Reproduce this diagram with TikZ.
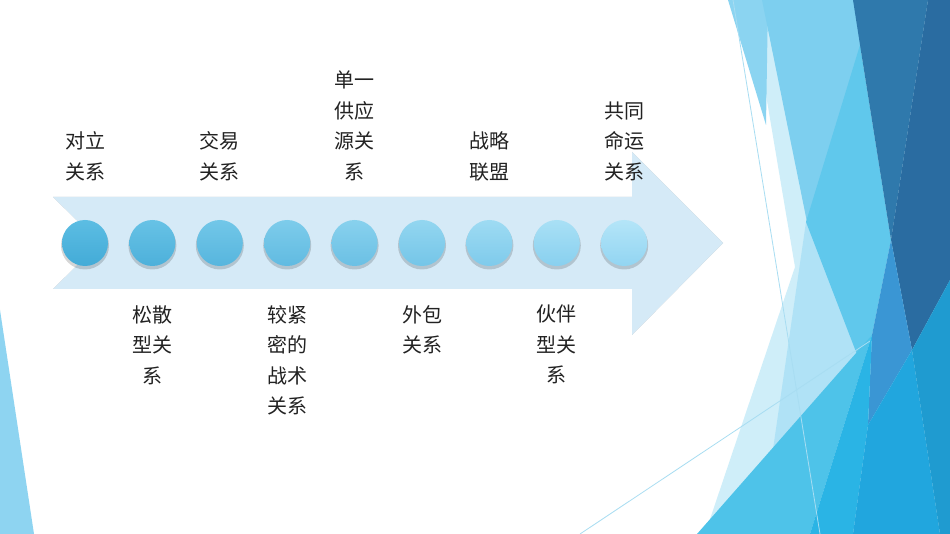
\documentclass[tikz,border=0pt]{standalone}
\usepackage{fontspec}
\newfontfamily\cjk{Noto Sans CJK SC}
\usetikzlibrary{positioning,calc}
\definecolor{arrowfill}{HTML}{D5EAF7}
\definecolor{ballLT}{HTML}{5CBDE3}
\definecolor{ballLB}{HTML}{43ABD7}
\definecolor{ballRT}{HTML}{B4E5F8}
\definecolor{ballRB}{HTML}{92D5F2}
\definecolor{labeltext}{HTML}{222222}
\definecolor{facetLeft}{HTML}{8ED4F1}
\definecolor{facetPale}{HTML}{CFEEF9}
\definecolor{facetBand}{HTML}{8BD4F1}
\definecolor{facetLight}{HTML}{7DCFEF}
\definecolor{facetLighter}{HTML}{B0E2F6}
\definecolor{facetMid}{HTML}{60C8EC}
\definecolor{facetDark}{HTML}{2F79AC}
\definecolor{facetDarker}{HTML}{2A6CA1}
\definecolor{facetBlue}{HTML}{3A96D4}
\definecolor{facetMidB}{HTML}{4EC3E9}
\definecolor{facetBright}{HTML}{2AB4E5}
\definecolor{facetSea}{HTML}{21A6DE}
\definecolor{facetTeal}{HTML}{1F9BD0}
\definecolor{facetLine}{HTML}{A8DDF2}
\tikzset{
    ball/.style = {circle, minimum size=46pt, inner sep=0pt, outer sep=0pt, draw=none},
    lbl/.style = {font=\cjk\fontsize{20}{30.5}\selectfont, text=labeltext, align=center, inner sep=0pt},
    hairline/.style = {draw=facetLine, line width=0.8pt}
}

\begin{document}
\begin{tikzpicture}[
  x=1pt, y=-1pt,
  node distance=39pt
]
\useasboundingbox (0,0) rectangle (950,534);
\fill[white] (0,0) rectangle (950,534);

% ---- facets (background) ----
\fill[facetLeft] (0,310) -- (34,534) -- (0,534) -- cycle;
\fill[facetPale] (750,0) -- (950,0) -- (950,534) -- (705,534) -- (795,267) -- cycle;
\fill[facetBand] (728,0) -- (768,0) -- (766,125) -- cycle;
\fill[facetLight] (762,0) -- (856,0) -- (862,45) -- (808,227) -- cycle;
\fill[facetLighter] (806,222) -- (880,360) -- (770,470) -- cycle;
\fill[facetMid] (860,45) -- (891,240) -- (872,335) -- (858,357) -- (806,222) -- cycle;
\fill[facetDark] (853,0) -- (928,0) -- (891,240) -- (860,45) -- cycle;
\fill[facetDarker] (928,0) -- (950,0) -- (950,280) -- (912,350) -- (891,240) -- cycle;
\fill[facetBlue] (891,240) -- (912,350) -- (868,425) -- (872,335) -- cycle;
\fill[facetMidB] (697,534) -- (872,335) -- (810,534) -- cycle;
\fill[facetBright] (810,534) -- (872,335) -- (868,425) -- (853,534) -- cycle;
\fill[facetSea] (853,534) -- (868,425) -- (912,350) -- (940,534) -- cycle;
\fill[facetTeal] (912,350) -- (950,280) -- (950,534) -- (940,534) -- cycle;
\draw[hairline] (733,0) -- (820,534);
\draw[hairline] (580,534) -- (870,341);

% ---- arrow ----
\coordinate (tailT) at (53,197);
\coordinate (shaftT) at (632,197);
\coordinate (headT) at (632,152);
\coordinate (tip) at (723,243);
\coordinate (headB) at (632,335);
\coordinate (shaftB) at (632,289);
\coordinate (tailB) at (53,289);
\coordinate (notch) at (100,243);
\fill[gray!60, opacity=.75, shift={(0,2)}]
  (tailT) -- (shaftT) -- (headT) -- (tip) -- (headB) -- (shaftB) -- (tailB) -- (notch) -- cycle;
\fill[arrowfill]
  (tailT) -- (shaftT) -- (headT) -- (tip) -- (headB) -- (shaftB) -- (tailB) -- (notch) -- cycle;

% ---- circles ----
\foreach \i in {1,...,9}{
  \pgfmathsetmacro{\pct}{100*(\i-1)/8}
  \colorlet{balltop}{ballRT!\pct!ballLT}
  \colorlet{ballbot}{ballRB!\pct!ballLB}
  \fill[black, opacity=.16] ({85+67.4*(\i-1)},245.5) circle[radius=24];
  \node[ball, top color=balltop, bottom color=ballbot] (b\i) at ({85+67.4*(\i-1)},243) {};
}

% ---- labels (top) ----
\node[lbl, above=of b1] (l1) {对立\\关系};
\node[lbl, above=of b3] (l3) {交易\\关系};
\node[lbl, above=of b5] (l5) {单一\\供应\\源关\\系};
\node[lbl, above=of b7] (l7) {战略\\联盟};
\node[lbl, above=of b9] (l9) {共同\\命运\\关系};

% ---- labels (bottom) ----
\node[lbl, below=of b2] (l2) {松散\\型关\\系};
\node[lbl, below=of b4] (l4) {较紧\\密的\\战术\\关系};
\node[lbl, below=of b6] (l6) {外包\\关系};
\node[lbl, below=of b8] (l8) {伙伴\\型关\\系};

\end{tikzpicture}
\end{document}
